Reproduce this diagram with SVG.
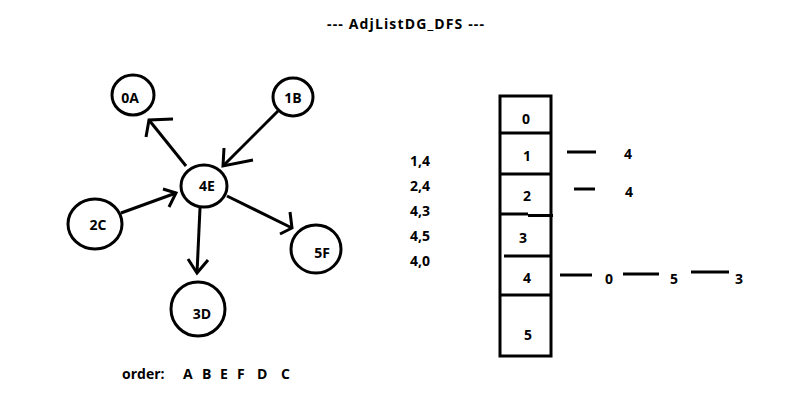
<svg xmlns="http://www.w3.org/2000/svg" width="802" height="404" viewBox="0 0 802 404">
<style>
.t{font-family:"Segoe UI","Open Sans","Liberation Sans",sans-serif;font-weight:bold;font-size:14px;fill:#000}
.c{text-anchor:middle;dominant-baseline:central}
.n{fill:#fff;stroke:#000;stroke-width:3}
.l{fill:none;stroke:#000;stroke-width:3;stroke-linecap:butt;stroke-linejoin:miter}
</style>
<rect width="802" height="404" fill="#fff"/>
<text class="t c" x="405.5" y="23" textLength="157" lengthAdjust="spacing">--- AdjListDG_DFS ---</text>

<g id="node-0A"><ellipse class="n" cx="133" cy="95" rx="21" ry="20"/><text class="t c" x="130" y="97">0A</text></g>
<g id="node-1B"><ellipse class="n" cx="293" cy="97" rx="20" ry="19"/><text class="t c" x="293" y="97">1B</text></g>
<g id="node-4E"><ellipse class="n" cx="204" cy="186" rx="23" ry="21"/><text class="t c" x="207" y="185">4E</text></g>
<g id="node-2C"><ellipse class="n" cx="95" cy="224" rx="27" ry="25"/><text class="t c" x="98" y="224">2C</text></g>
<g id="node-5F"><ellipse class="n" cx="316" cy="249" rx="25" ry="24"/><text class="t c" x="322" y="252">5F</text></g>
<g id="node-3D"><ellipse class="n" cx="198" cy="309" rx="27" ry="27"/><text class="t c" x="202" y="313">3D</text></g>

<g id="connectors">
<line class="l" x1="186" y1="166" x2="149" y2="120"/><polyline class="l" points="173,119 149,120 146,137"/>
<line class="l" x1="278" y1="111" x2="223" y2="166"/><polyline class="l" points="253,160 223,166 224,148"/>
<line class="l" x1="121" y1="213" x2="176" y2="193"/><polyline class="l" points="163,189 176,193 169,207"/>
<line class="l" x1="200" y1="208" x2="197" y2="273"/><polyline class="l" points="188,259 197,273 208,260"/>
<line class="l" x1="227" y1="196" x2="292" y2="228"/><polyline class="l" points="290,212 292,228 280,234"/>
</g>

<g id="pairs">
<text class="t" x="410" y="166">1,4</text>
<text class="t" x="410" y="191">2,4</text>
<text class="t" x="410" y="216">4,3</text>
<text class="t" x="410" y="241">4,5</text>
<text class="t" x="410" y="266">4,0</text>
</g>

<g id="array">
<rect class="l" x="500" y="96" width="51" height="260"/>
<line class="l" x1="500" y1="133" x2="551" y2="133"/>
<line class="l" x1="500" y1="174" x2="551" y2="174"/>
<line class="l" x1="500" y1="214" x2="528" y2="214"/>
<line class="l" x1="528" y1="215.5" x2="553" y2="215.5"/>
<line class="l" x1="504" y1="256" x2="550" y2="256"/>
<line class="l" x1="500" y1="295" x2="551" y2="295"/>
<text class="t c" x="526" y="118">0</text>
<text class="t c" x="527" y="155">1</text>
<text class="t c" x="527" y="195">2</text>
<text class="t c" x="523" y="237">3</text>
<text class="t c" x="527" y="277">4</text>
<text class="t c" x="528" y="334">5</text>
</g>

<g id="lists">
<line class="l" x1="567" y1="152" x2="596" y2="152"/>
<text class="t c" x="628" y="153">4</text>
<line class="l" x1="574" y1="189" x2="595" y2="189"/>
<text class="t c" x="629" y="191">4</text>
<line class="l" x1="560" y1="275" x2="592" y2="275"/>
<text class="t c" x="609" y="278">0</text>
<line class="l" x1="623" y1="274" x2="659" y2="274"/>
<text class="t c" x="674" y="278">5</text>
<line class="l" x1="691" y1="272" x2="729" y2="272"/>
<text class="t c" x="739" y="278">3</text>
</g>

<g id="order">
<text class="t" x="122" y="379">order:</text>
<text class="t" x="183" y="379">A</text>
<text class="t" x="202" y="379">B</text>
<text class="t" x="220" y="379">E</text>
<text class="t" x="237" y="379">F</text>
<text class="t" x="257" y="379">D</text>
<text class="t" x="281" y="379">C</text>
</g>
</svg>
